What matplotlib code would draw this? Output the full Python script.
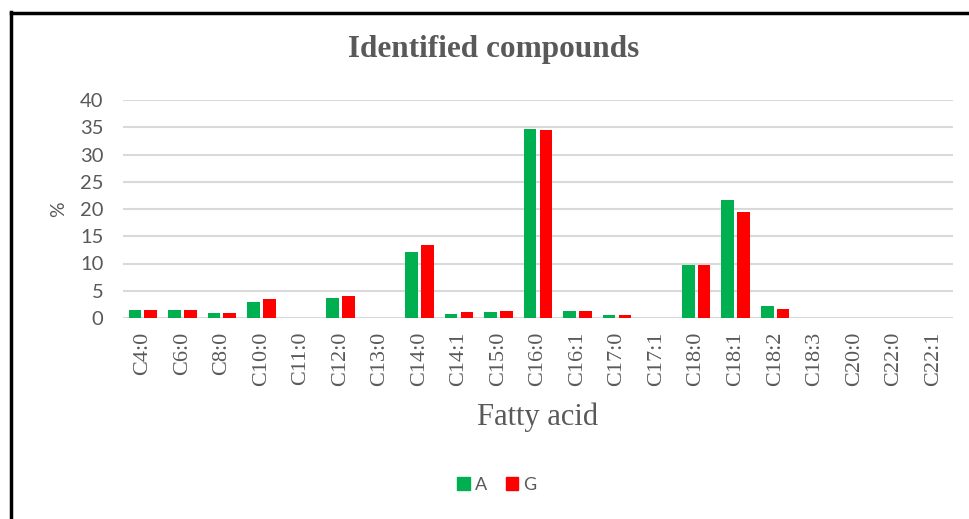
import matplotlib
matplotlib.use("Agg")
import matplotlib.pyplot as plt
import numpy as np
from matplotlib.lines import Line2D
from matplotlib.patches import Patch

categories = ["C4:0", "C6:0", "C8:0", "C10:0", "C11:0", "C12:0", "C13:0", "C14:0",
              "C14:1", "C15:0", "C16:0", "C16:1", "C17:0", "C17:1", "C18:0", "C18:1",
              "C18:2", "C18:3", "C20:0", "C22:0", "C22:1"]
series_A = [1.5, 1.5, 1.0, 2.9, 0.0, 3.6, 0.0, 12.05, 0.75, 1.05, 34.65, 1.25, 0.5, 0.0,
            9.7, 21.7, 2.15, 0.0, 0.0, 0.0, 0.0]
series_G = [1.5, 1.5, 1.0, 3.4, 0.0, 4.05, 0.0, 13.45, 1.05, 1.3, 34.45, 1.25, 0.5, 0.0,
            9.7, 19.5, 1.7, 0.0, 0.0, 0.0, 0.0]
yticks = [0, 5, 10, 15, 20, 25, 30, 35, 40]

GREEN = "#00B050"
RED = "#FF0000"
GRAY = "#595959"

fig = plt.figure(figsize=(9.69, 5.19), dpi=100)
ax = fig.add_axes([123/969, 1-318/519, (953-123)/969, (318-100)/519])

x = np.arange(len(categories))
w = 0.32
ax.bar(x - 0.2, series_A, width=w, color=GREEN, label="A", zorder=3)
ax.bar(x + 0.2, series_G, width=w, color=RED, label="G", zorder=3)

ax.set_xlim(-0.5, len(categories) - 0.5)
ax.set_ylim(0, 40)
ax.set_yticks(yticks)
ax.set_yticklabels([str(v) for v in yticks], family="Lato", fontsize=14.5, color=GRAY)
ax.set_xticks(x)
ax.set_xticklabels(categories, rotation=90, family="Liberation Serif", fontsize=16, color=GRAY)
ax.tick_params(axis="x", length=0, pad=10)
ax.tick_params(axis="y", length=0, pad=14)
ax.grid(axis="y", color="#D9D9D9", linewidth=1.5, zorder=0)
for s in ax.spines.values():
    s.set_visible(False)

ax.set_ylabel("%", family="Lato", fontsize=14, color=GRAY, labelpad=9)
ax.set_xlabel("Fatty acid", family="Liberation Serif", fontsize=22, color=GRAY, labelpad=12)

fig.text(494/969, 1-50/519, "Identified compounds", family="Liberation Serif",
         fontweight="bold", fontsize=22.5, color=GRAY, ha="center", va="center")

handles = [Patch(color=GREEN, label="A"), Patch(color=RED, label="G")]
leg = fig.legend(handles=handles, loc="center", bbox_to_anchor=(497/969, 1-485/519),
                 ncol=2, frameon=False, prop={"family": "Lato", "size": 13},
                 handlelength=0.7, handleheight=0.7, handletextpad=0.3, columnspacing=1.0)
for t in leg.get_texts():
    t.set_color(GRAY)

# figure border (left and top)
fig.add_artist(Line2D([11/969, 11/969], [0, 1-12/519], transform=fig.transFigure,
                      color="black", linewidth=2.5))
fig.add_artist(Line2D([11/969, 1], [1-13/519, 1-13/519], transform=fig.transFigure,
                      color="black", linewidth=2.5))

fig.savefig("out.png", dpi=100)
